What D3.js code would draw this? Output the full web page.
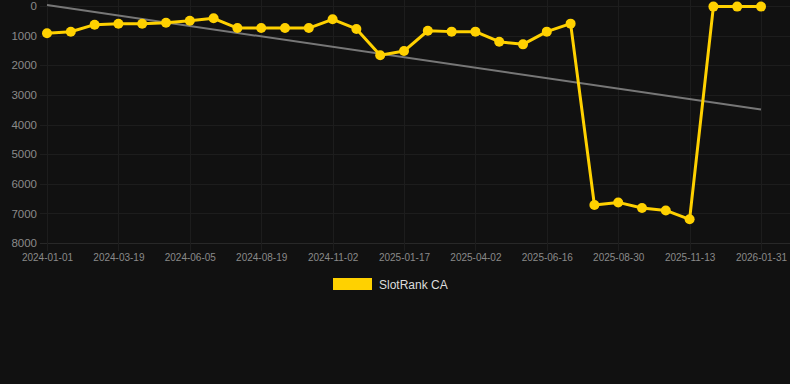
<!DOCTYPE html>
<html><head><meta charset="utf-8">
<script src="https://cdn.jsdelivr.net/npm/d3@7"></script>
<style>html,body{margin:0;padding:0;background:#111111;}svg{display:block;}</style>
</head><body>
<svg id="c" width="790" height="384"></svg>
<script>
const dates = ["2024-01-01","2024-01-26","2024-02-21","2024-03-19","2024-04-11","2024-05-07","2024-06-05","2024-06-27","2024-07-22","2024-08-19","2024-09-11","2024-10-06","2024-11-02","2024-11-26","2024-12-21","2025-01-17","2025-02-10","2025-03-07","2025-04-02","2025-04-27","2025-05-22","2025-06-16","2025-07-12","2025-08-07","2025-08-30","2025-09-26","2025-10-22","2025-11-13","2025-12-11","2026-01-06","2026-01-31"];
const ranks = [920,870,630,600,600,565,495,415,745,745,745,745,450,775,1665,1520,835,865,865,1205,1295,865,595,6715,6630,6820,6900,7200,20,20,20];
const trend = [-30,3490];
const xTickLabels = ["2024-01-01","2024-03-19","2024-06-05","2024-08-19","2024-11-02","2025-01-17","2025-04-02","2025-06-16","2025-08-30","2025-11-13","2026-01-31"];
const yTicks = [0,1000,2000,3000,4000,5000,6000,7000,8000];
const seriesName = "SlotRank CA";

(function () {
const svg = d3.select("#c");
const mLeft = 47, mRight = 761, mTop = 6, mBottom = 243;
const x = d3.scalePoint().domain(dates).range([mLeft, mRight]);
const y = d3.scaleLinear().domain([0, 8000]).range([mTop, mBottom]);
const font = "'Liberation Sans', Arial, sans-serif";

const g = svg.append("g");
g.selectAll("line.h").data(yTicks).join("line")
  .attr("x1", 40).attr("x2", 790)
  .attr("y1", d => Math.round(y(d)) + 0.5).attr("y2", d => Math.round(y(d)) + 0.5)
  .attr("stroke", d => d === 8000 ? "#282828" : "#1d1d1d").attr("stroke-width", 1);
g.selectAll("line.v").data(xTickLabels).join("line")
  .attr("x1", d => Math.round(x(d)) + 0.5).attr("x2", d => Math.round(x(d)) + 0.5)
  .attr("y1", 0).attr("y2", mBottom + 8)
  .attr("stroke", "#1d1d1d").attr("stroke-width", 1);

const yAxis = d3.axisLeft(y).tickValues(yTicks).tickSize(0).tickPadding(0).tickFormat(d3.format("d"));
const ya = svg.append("g").attr("transform", "translate(37,0)").call(yAxis);
ya.select(".domain").remove();
ya.selectAll("text").attr("fill", "#8a8a8a").style("font-family", font).style("font-size", "11.5px");

const xAxis = d3.axisBottom(x).tickValues(xTickLabels).tickSize(0).tickPadding(0);
const xa = svg.append("g").attr("transform", `translate(0,${mBottom + 10.5})`).call(xAxis);
xa.select(".domain").remove();
xa.selectAll("text").attr("fill", "#8a8a8a").style("font-family", font).style("font-size", "10px");

svg.append("line")
  .attr("x1", x(dates[0])).attr("y1", y(trend[0]))
  .attr("x2", x(dates[dates.length - 1])).attr("y2", y(trend[1]))
  .attr("stroke", "#777777").attr("stroke-width", 2);

const line = d3.line().x((d, i) => x(dates[i])).y(d => y(d));
svg.append("path").datum(ranks).attr("d", line)
  .attr("fill", "none").attr("stroke", "#FFD100").attr("stroke-width", 3).attr("stroke-linejoin", "round");
svg.selectAll("circle.p").data(ranks).join("circle")
  .attr("cx", (d, i) => x(dates[i])).attr("cy", d => y(d)).attr("r", 5)
  .attr("fill", "#FFD100");

svg.append("rect").attr("x", 333).attr("y", 278).attr("width", 39).attr("height", 12).attr("fill", "#FFD100");
svg.append("text").attr("x", 379).attr("y", 288.5).text(seriesName)
  .attr("fill", "#dddddd").style("font-family", font).style("font-size", "12px");
})();
</script>
</body></html>
